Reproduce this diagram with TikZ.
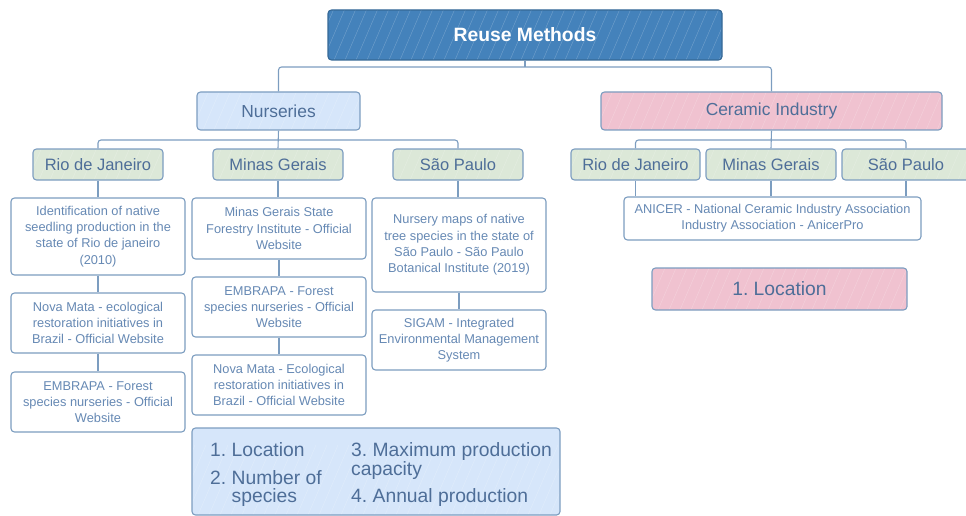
\documentclass[tikz,border=0pt]{standalone}
\usepackage{fontspec}
\setmainfont{Liberation Sans}
\frenchspacing
\definecolor{bordc}{HTML}{7C9DC0}
\definecolor{headtxt}{HTML}{4E6E98}
\definecolor{dettxt}{HTML}{6689B4}
\definecolor{reusefill}{HTML}{4482BB}
\definecolor{nursfill}{HTML}{D6E6FA}
\definecolor{cerfill}{HTML}{F0C2D0}
\definecolor{statefill}{HTML}{DCE8D8}
\begin{document}
\begin{tikzpicture}[x=1pt,y=-1pt,
  base/.style={draw=bordc, line width=1.1pt, rounded corners=3.5pt, inner sep=0pt, align=center},
  hatch/.style={path picture={\foreach \k in {-60,-49,...,420}{\draw[white,opacity=0.25,line width=0.4pt] ([xshift=\k pt]path picture bounding box.south west) -- ++(30pt,70pt);}}},
  title/.style={base, hatch, fill=reusefill, draw=reusefill!80!black, text=white, font=\fontsize{19.3}{22}\selectfont\bfseries},
  nurs/.style={base, hatch, fill=nursfill, text=headtxt, font=\fontsize{17.4}{20}\selectfont},
  cer/.style={base, hatch, fill=cerfill, text=headtxt, font=\fontsize{17.4}{20}\selectfont},
  state/.style={base, hatch, fill=statefill, text=headtxt, font=\fontsize{16.5}{20}\selectfont},
  det/.style={base, fill=white, text=dettxt, font=\fontsize{12.8}{16.3}\selectfont},
  crit/.style={base, hatch, fill=nursfill, text=headtxt},
  crittext/.style={text=headtxt, font=\fontsize{19.3}{18}\selectfont, align=left, inner sep=0pt, anchor=base west},
  conn/.style={draw=bordc, line width=1.1pt, rounded corners=3pt}]
\useasboundingbox (0,0) rectangle (966,516);
% nodes
\node[title, minimum width=394pt, minimum height=50pt] (reuse) at (525,35) {Reuse Methods};
\node[nurs, minimum width=163pt, minimum height=38pt] (nurs) at (278.5,111) {Nurseries};
\node[cer, minimum width=341pt, minimum height=38pt] (cer) at (771.5,111) {Ceramic Industry};
\node[state, minimum width=130pt, minimum height=31pt] (rj) at (98,164.5) {Rio de Janeiro};
\node[state, minimum width=130pt, minimum height=31pt] (mg) at (278,164.5) {Minas Gerais};
\node[state, minimum width=130pt, minimum height=31pt] (sp) at (458,164.5) {São Paulo};
\node[state, minimum width=129pt, minimum height=31pt] (crj) at (635.5,164.5) {Rio de Janeiro};
\node[state, minimum width=130pt, minimum height=31pt] (cmg) at (771,164.5) {Minas Gerais};
\node[state, minimum width=128pt, minimum height=31pt] (csp) at (906,164.5) {São Paulo};
% left details
\node[det, minimum width=174pt, minimum height=77pt] (l1) at (98,236.5) {Identification of native\\seedling production in the\\state of Rio de janeiro\\(2010)};
\node[det, minimum width=174pt, minimum height=60pt] (l2) at (98,323) {Nova Mata - ecological\\restoration initiatives in\\Brazil - Official Website};
\node[det, minimum width=174pt, minimum height=60pt] (l3) at (98,402) {EMBRAPA - Forest\\species nurseries - Official\\Website};
% middle details
\node[det, minimum width=174pt, minimum height=61pt] (m1) at (279,228.5) {Minas Gerais State\\Forestry Institute - Official\\Website};
\node[det, minimum width=174pt, minimum height=60pt] (m2) at (279,307) {EMBRAPA - Forest\\species nurseries - Official\\Website};
\node[det, minimum width=174pt, minimum height=60pt] (m3) at (279,385) {Nova Mata - Ecological\\restoration initiatives in\\Brazil - Official Website};
% right details
\node[det, minimum width=174pt, minimum height=94pt] (r1) at (459,245) {Nursery maps of native\\tree species in the state of\\São Paulo - São Paulo\\Botanical Institute (2019)};
\node[det, minimum width=174pt, minimum height=60pt] (r2) at (459,340) {SIGAM - Integrated\\Environmental Management\\System};
% ceramic details
\node[det, minimum width=297pt, minimum height=43pt] (anicer) at (772.5,218.5) {ANICER - National Ceramic Industry Association\\Industry Association - AnicerPro};
\node[cer, minimum width=255pt, minimum height=42pt, font=\fontsize{19.3}{22}\selectfont] (loc) at (779.5,289) {1. Location};
% criteria
\node[crit, minimum width=368pt, minimum height=87pt] (crit) at (376,471.5) {};
\node[crittext] (critA) at (210,502) {1. Location\\[10pt]2. Number of\\\phantom{2. }species};
\node[crittext] (critB) at (351,502) {3. Maximum production\\[1pt]capacity\\[9pt]4. Annual production};
% connectors
\coordinate (jr) at (525,67);
\coordinate (jn) at (278,140);
\coordinate (jc) at (771,140);
\draw[conn] (reuse.south) -- (jr);
\draw[conn] (nurs.north) |- (jr) -| (cer.north);
\draw[conn] (nurs.south) -- (mg.north);
\draw[conn] (rj.north) |- (jn) -| (sp.north);
\draw[conn] (cer.south) -- (cmg.north);
\draw[conn] (crj.north) |- (jc) -| (csp.north);
\draw[conn] (rj.south) -- (l1.north);
\draw[conn] (l1.south) -- (l2.north);
\draw[conn] (l2.south) -- (l3.north);
\draw[conn] (mg.south) -- (mg.south |- m1.north);
\draw[conn] (m1.south) -- (m2.north);
\draw[conn] (m2.south) -- (m3.north);
\draw[conn] (sp.south) -- (sp.south |- r1.north);
\draw[conn] (r1.south) -- (r1.south |- r2.north);
\draw[conn] (crj.south) -- (crj.south |- anicer.north);
\draw[conn] (cmg.south) -- (cmg.south |- anicer.north);
\draw[conn] (csp.south) -- (csp.south |- anicer.north);
\end{tikzpicture}
\end{document}
